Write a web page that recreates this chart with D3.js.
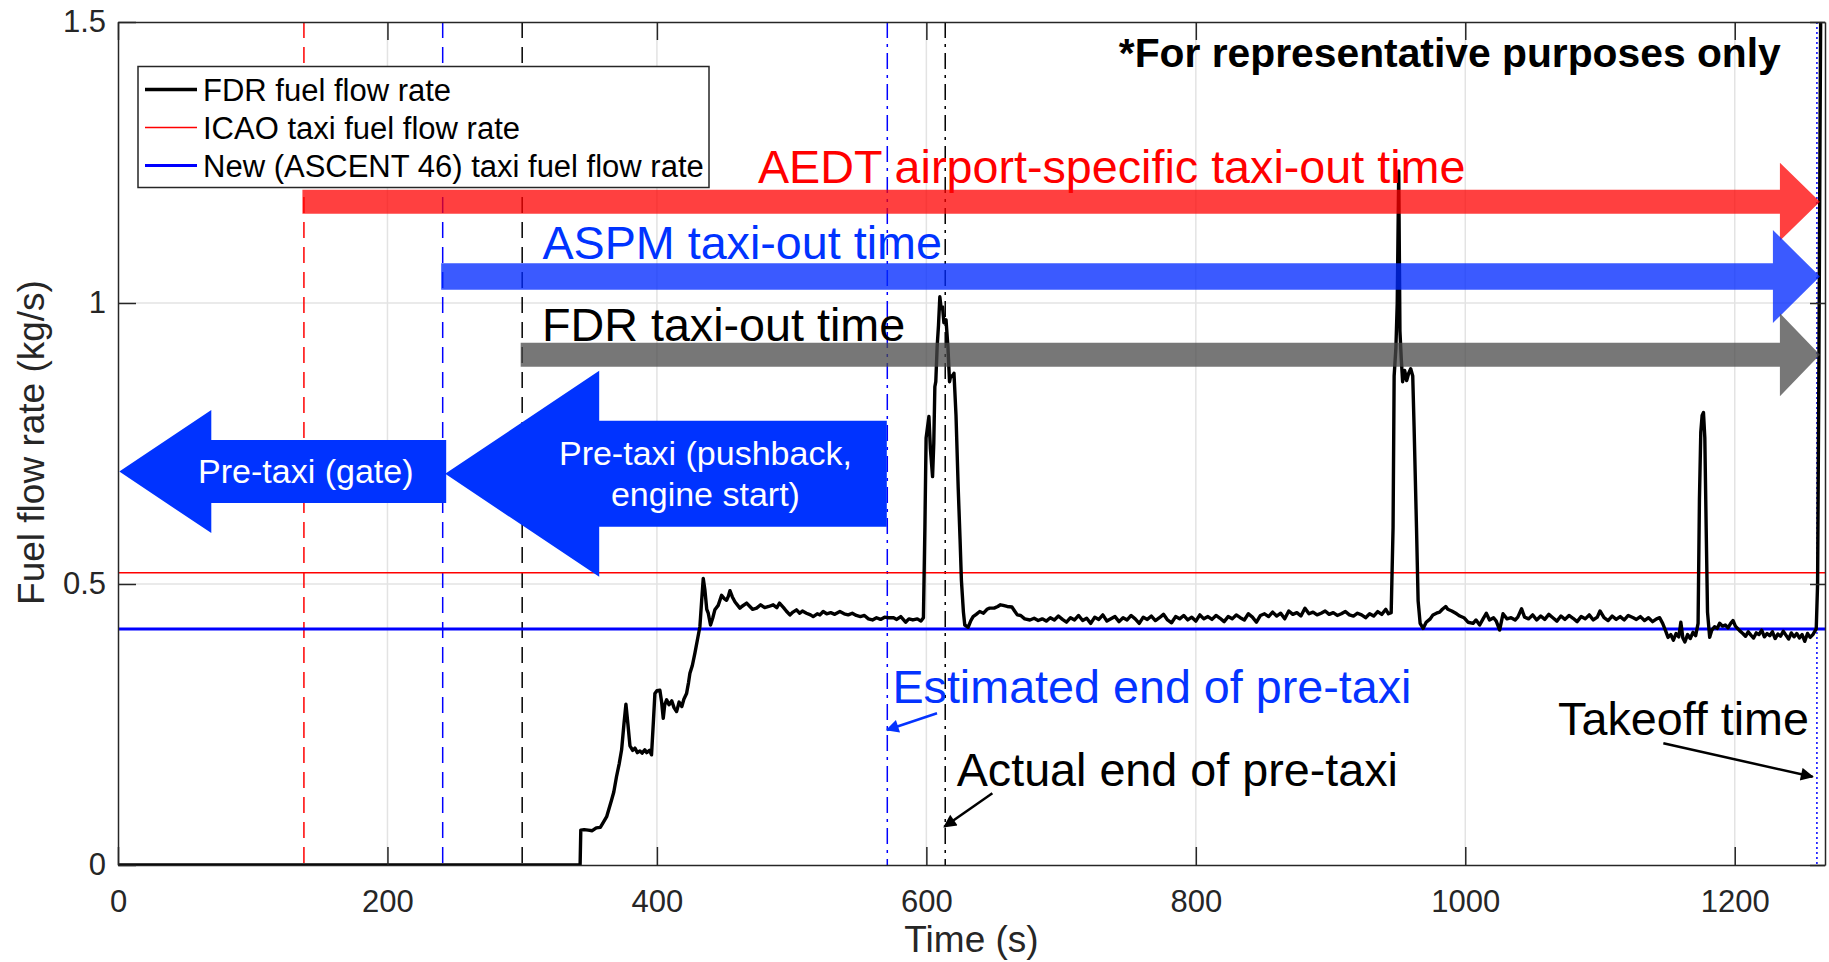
<!DOCTYPE html>
<html>
<head>
<meta charset="utf-8">
<script src="https://cdn.jsdelivr.net/npm/d3@7"></script>
<style>
  html, body { margin: 0; padding: 0; background: #fff; }
  svg { display: block; font-family: "Liberation Sans", Arial, sans-serif; }
</style>
</head>
<body>
<svg id="chart" width="1829" height="962"></svg>
<script>
// FDR fuel flow trace (time in s, rate in kg/s)
const fdrTime = [0, 343, 343.5, 346, 349, 352, 355, 358, 360, 362.7, 366.4, 368, 370, 372, 373.8, 375.5, 377, 378.5,
  380, 382, 383.7, 385.5, 387.4, 389, 391, 392.4, 394.5, 396, 397.5, 398.5, 400, 402.2, 403.5, 404.7, 405.8, 407.2,
  409, 411, 412.7, 414.6, 416.5, 418.5, 420, 422, 423.5, 424.5, 426.3, 428.2, 430, 431.9, 433.2, 434.4, 435.6, 437,
  438.1, 439.8, 441.5, 443, 445.5, 448, 450, 451.7, 453, 454.2, 456, 458, 460, 461.6, 463, 466.6, 469, 471, 474, 477,
  480, 483, 486.3, 489, 491, 494, 496, 498.7, 501, 503.6, 506, 508, 511, 514, 516, 519, 521, 523.4, 526, 529, 532,
  535.8, 539, 542, 545, 548, 551, 554, 557, 560, 563, 566, 569, 572, 575.7, 578, 581, 584.6, 587, 590, 593.3, 596,
  597.8, 598.9, 599.8, 601.9, 603, 604.6, 605.5, 606.3, 607, 608, 609, 610, 611, 612, 613, 614.6, 616, 617.2, 618,
  619, 620.5, 622, 623.6, 625, 626, 627.5, 628.5, 631, 633, 634.7, 637, 639.6, 642.4, 645, 647, 650.3, 653, 655, 657,
  660, 663.5, 665.5, 667.5, 670, 673, 676.9, 680, 683, 686, 689, 692, 695, 698, 701, 704, 707, 710, 713, 716, 719,
  722, 725, 728, 731, 734, 737, 740, 743, 746, 749, 752, 755, 758, 761, 764, 767, 770, 773, 776, 779, 782, 785, 788,
  791, 794, 797, 800, 803, 806, 809, 812, 815, 818, 821, 824, 827, 830, 833, 836, 839, 842, 845, 848, 851, 854, 857,
  860, 863, 866, 869, 872, 875, 878, 881, 884, 887, 890, 893, 896, 899, 902, 905, 908, 911, 914, 917, 920, 923, 926,
  929, 932, 935, 938, 941, 943, 945, 946.4, 947.2, 948.5, 949.5, 950.6, 951.5, 952.5, 953.5, 955, 956.5, 958, 959.5,
  961, 962, 963.8, 965, 966.5, 968.7, 971, 974, 976, 978.6, 981, 983, 985.5, 987, 990, 993.6, 996, 999, 1002, 1005.8,
  1008, 1010.7, 1013, 1015.6, 1018, 1021, 1023, 1025.5, 1028, 1031, 1034, 1037, 1039, 1041.8, 1044, 1047, 1050, 1053,
  1056, 1059, 1062, 1065, 1068, 1071, 1074, 1077, 1080, 1083, 1086, 1089, 1092, 1095, 1098, 1100, 1103, 1106, 1109,
  1112, 1115, 1118, 1121, 1124.7, 1127, 1130, 1133, 1136, 1139, 1142, 1144.3, 1146.5, 1148.5, 1150.5, 1152.5, 1154.5,
  1156.5, 1158.5, 1160, 1161.5, 1163, 1165, 1167, 1169, 1171, 1172.8, 1173.8, 1174.8, 1175.8, 1176.8, 1177.8, 1178.8,
  1179.8, 1181.4, 1183, 1185, 1187, 1188.8, 1191, 1193, 1195, 1197, 1198.7, 1200.5, 1203.6, 1206, 1208, 1210, 1212,
  1214, 1216, 1218, 1220, 1222, 1224, 1226, 1228, 1230, 1232, 1234, 1236, 1238, 1240, 1242, 1244, 1246, 1248, 1250,
  1252, 1254, 1256, 1258, 1260.5, 1261.5, 1262.5, 1263.3, 1264];
const fdrRate = [0, 0, 0.062, 0.063, 0.062, 0.061, 0.066, 0.067, 0.075, 0.086, 0.116, 0.13, 0.157, 0.18, 0.205, 0.25,
  0.286, 0.25, 0.212, 0.204, 0.208, 0.2, 0.203, 0.199, 0.205, 0.2, 0.204, 0.196, 0.26, 0.305, 0.31, 0.311, 0.29, 0.261,
  0.285, 0.294, 0.285, 0.292, 0.28, 0.273, 0.29, 0.282, 0.295, 0.305, 0.325, 0.341, 0.355, 0.377, 0.4, 0.424, 0.47,
  0.51, 0.49, 0.455, 0.448, 0.427, 0.44, 0.454, 0.462, 0.48, 0.474, 0.471, 0.478, 0.488, 0.477, 0.468, 0.462, 0.457,
  0.46, 0.466, 0.46, 0.455, 0.457, 0.463, 0.458, 0.46, 0.463, 0.458, 0.466, 0.458, 0.452, 0.445, 0.45, 0.454, 0.448,
  0.452, 0.448, 0.445, 0.442, 0.447, 0.445, 0.451, 0.447, 0.449, 0.446, 0.451, 0.447, 0.445, 0.448, 0.444, 0.442,
  0.444, 0.438, 0.436, 0.44, 0.437, 0.441, 0.44, 0.44, 0.437, 0.442, 0.432, 0.438, 0.436, 0.438, 0.434, 0.44, 0.6,
  0.76, 0.798, 0.74, 0.691, 0.75, 0.851, 0.86, 0.922, 0.96, 1.011, 0.99, 0.993, 0.965, 0.97, 0.922, 0.86, 0.87, 0.869,
  0.875, 0.8, 0.673, 0.58, 0.507, 0.45, 0.427, 0.423, 0.435, 0.442, 0.446, 0.451, 0.448, 0.455, 0.457, 0.457, 0.46,
  0.463, 0.462, 0.46, 0.459, 0.452, 0.445, 0.444, 0.438, 0.436, 0.439, 0.435, 0.438, 0.434, 0.44, 0.436, 0.443, 0.437,
  0.432, 0.44, 0.436, 0.444, 0.435, 0.439, 0.43, 0.441, 0.437, 0.445, 0.434, 0.438, 0.442, 0.433, 0.44, 0.436, 0.444,
  0.438, 0.43, 0.441, 0.437, 0.443, 0.435, 0.44, 0.446, 0.436, 0.431, 0.442, 0.438, 0.444, 0.436, 0.441, 0.434, 0.445,
  0.438, 0.442, 0.437, 0.444, 0.439, 0.433, 0.442, 0.438, 0.445, 0.44, 0.436, 0.447, 0.441, 0.432, 0.444, 0.447,
  0.442, 0.45, 0.443, 0.448, 0.438, 0.452, 0.446, 0.449, 0.443, 0.457, 0.447, 0.45, 0.445, 0.448, 0.452, 0.446, 0.449,
  0.444, 0.447, 0.451, 0.445, 0.443, 0.448, 0.445, 0.44, 0.447, 0.443, 0.451, 0.446, 0.455, 0.447, 0.449, 0.6, 0.87,
  0.92, 1.0, 1.235, 0.95, 0.9, 0.86, 0.88, 0.862, 0.875, 0.883, 0.87, 0.78, 0.6, 0.47, 0.43, 0.421, 0.432, 0.438,
  0.445, 0.448, 0.45, 0.455, 0.46, 0.455, 0.452, 0.447, 0.443, 0.44, 0.432, 0.43, 0.436, 0.427, 0.437, 0.448, 0.436,
  0.44, 0.434, 0.418, 0.447, 0.438, 0.44, 0.436, 0.441, 0.456, 0.441, 0.438, 0.445, 0.436, 0.443, 0.437, 0.446, 0.44,
  0.434, 0.443, 0.437, 0.444, 0.439, 0.433, 0.442, 0.438, 0.445, 0.436, 0.441, 0.452, 0.44, 0.435, 0.443, 0.437,
  0.442, 0.436, 0.444, 0.44, 0.437, 0.442, 0.435, 0.44, 0.433, 0.438, 0.44, 0.43, 0.418, 0.405, 0.41, 0.4, 0.412,
  0.406, 0.432, 0.404, 0.397, 0.41, 0.403, 0.414, 0.408, 0.43, 0.65, 0.77, 0.8, 0.805, 0.76, 0.6, 0.45, 0.405, 0.418,
  0.424, 0.421, 0.43, 0.425, 0.427, 0.422, 0.43, 0.435, 0.425, 0.417, 0.412, 0.407, 0.415, 0.409, 0.404, 0.413, 0.41,
  0.418, 0.406, 0.412, 0.408, 0.415, 0.403, 0.411, 0.407, 0.416, 0.409, 0.402, 0.413, 0.406, 0.412, 0.404, 0.41,
  0.398, 0.412, 0.405, 0.41, 0.42, 0.5, 0.9, 1.3, 1.6];

// reference taxi fuel flow rates (kg/s)
const icaoRate = 0.52;
const ascentRate = 0.42;

// event times (s)
const eventNames = ["aedtStart", "aspmStart", "fdrStart", "estEnd", "actualEnd", "takeoff"];
const eventTimes = [138, 241, 300, 571, 614, 1261];
const eventColors = ["#ff0000", "#0000ff", "#000000", "#0000ff", "#000000", "#0000ff"];
const eventDashes = ["16,9", "16,9", "16,9", "16,6,3,6", "16,6,3,6", "2,3"];

const xTicks = [0, 200, 400, 600, 800, 1000, 1200];
const yTicks = [0, 0.5, 1, 1.5];
const legendLabels = ["FDR fuel flow rate", "ICAO taxi fuel flow rate", "New (ASCENT 46) taxi fuel flow rate"];

const ev = Object.fromEntries(eventNames.map((n, i) => [n, eventTimes[i]]));

// layout
const svg = d3.select("#chart");
const plotL = 118, plotR = 1825, plotT = 22, plotB = 865;
const axisColor = "#262626";

const x = d3.scaleLinear().domain([0, 1267]).range([plotL, plotR]);
const y = d3.scaleLinear().domain([0, 1.5]).range([plotB, plotT]);

const defs = svg.append("defs");
defs.append("clipPath").attr("id", "plot-clip")
  .append("rect").attr("x", plotL).attr("y", plotT).attr("width", plotR - plotL).attr("height", plotB - plotT);

// grid
const grid = svg.append("g").attr("stroke", "#e3e3e3").attr("stroke-width", 1.5);
grid.selectAll(".gx").data(xTicks.slice(1)).join("line").attr("class", "gx")
  .attr("x1", d => x(d)).attr("x2", d => x(d)).attr("y1", plotT).attr("y2", plotB);
grid.selectAll(".gy").data(yTicks.slice(1, -1)).join("line").attr("class", "gy")
  .attr("x1", plotL).attr("x2", plotR).attr("y1", d => y(d)).attr("y2", d => y(d));

const plot = svg.append("g").attr("clip-path", "url(#plot-clip)");

// vertical event lines
plot.selectAll(".event").data(eventTimes).join("line").attr("class", "event")
  .attr("x1", d => x(d)).attr("x2", d => x(d)).attr("y1", plotT).attr("y2", plotB)
  .attr("stroke", (d, i) => eventColors[i])
  .attr("stroke-width", 1.5)
  .attr("stroke-dasharray", (d, i) => eventDashes[i]);

// reference rates
plot.append("line").attr("x1", plotL).attr("x2", plotR)
  .attr("y1", y(icaoRate)).attr("y2", y(icaoRate))
  .attr("stroke", "#ff0000").attr("stroke-width", 1.5);
plot.append("line").attr("x1", plotL).attr("x2", plotR)
  .attr("y1", y(ascentRate)).attr("y2", y(ascentRate))
  .attr("stroke", "#0000ff").attr("stroke-width", 3);

// FDR trace
const fdrLine = d3.line().x(d => x(d[0])).y(d => y(d[1]));
plot.append("path")
  .datum(fdrTime.map((t, i) => [t, fdrRate[i]]))
  .attr("d", fdrLine)
  .attr("fill", "none").attr("stroke", "#000").attr("stroke-width", 3.4)
  .attr("stroke-linejoin", "round");

// axes (box with inward ticks)
const tickFont = 31;
const gx = svg.append("g").attr("transform", `translate(0,${plotB})`)
  .call(d3.axisBottom(x).tickValues(xTicks).tickFormat(d3.format("d"))
    .tickSizeInner(-18).tickSizeOuter(0).tickPadding(25));
const gy = svg.append("g").attr("transform", `translate(${plotL},0)`)
  .call(d3.axisLeft(y).tickValues(yTicks).tickFormat(d3.format("~g")).tickSizeInner(-18).tickSizeOuter(0).tickPadding(12));
const gt = svg.append("g").attr("transform", `translate(0,${plotT})`)
  .call(d3.axisTop(x).tickValues(xTicks).tickFormat("").tickSizeInner(-18).tickSizeOuter(0));
const gr = svg.append("g").attr("transform", `translate(${plotR},0)`)
  .call(d3.axisRight(y).tickValues(yTicks).tickFormat("").tickSizeInner(-15).tickSizeOuter(0));
[gx, gy, gt, gr].forEach(g => {
  g.select(".domain").attr("stroke", axisColor).attr("stroke-width", 1.5);
  g.selectAll(".tick line").attr("stroke", axisColor).attr("stroke-width", 1.5);
  g.selectAll("text").attr("fill", axisColor).attr("font-size", tickFont)
    .attr("font-family", "Liberation Sans, Arial, sans-serif");
});

svg.append("text").attr("x", (plotL + plotR) / 2).attr("y", 952)
  .attr("text-anchor", "middle").attr("font-size", 37).attr("fill", axisColor).text("Time (s)");
svg.append("text").attr("transform", `translate(44,${(plotT + plotB) / 2 - 1}) rotate(-90)`)
  .attr("text-anchor", "middle").attr("font-size", 37).attr("fill", axisColor).text("Fuel flow rate (kg/s)");

// legend
const legend = svg.append("g");
legend.append("rect").attr("x", 138).attr("y", 66.5).attr("width", 571).attr("height", 121)
  .attr("fill", "#fff").attr("stroke", axisColor).attr("stroke-width", 1.5);
const legendColors = ["#000", "#ff0000", "#0000ff"];
const legendWidths = [3.4, 1.5, 3];
legendLabels.forEach((lab, i) => {
  const ly = 89.5 + i * 38;
  legend.append("line").attr("x1", 145).attr("x2", 197).attr("y1", ly).attr("y2", ly)
    .attr("stroke", legendColors[i]).attr("stroke-width", legendWidths[i]);
  legend.append("text").attr("x", 203).attr("y", ly + 11).attr("font-size", 31).attr("fill", "#000").text(lab);
});

// block arrows
const arrowLine = d3.line();
function blockArrow(xTail, xTip, yc, shaft, head, headLen) {
  const dir = xTip > xTail ? 1 : -1;
  const xb = xTip - dir * headLen;
  return arrowLine([[xTail, yc - shaft / 2], [xb, yc - shaft / 2], [xb, yc - head / 2], [xTip, yc],
    [xb, yc + head / 2], [xb, yc + shaft / 2], [xTail, yc + shaft / 2]]) + "Z";
}
const tipX = x(ev.takeoff) + 3;
const spans = [
  { from: ev.aedtStart, level: 1.18, shaft: 24, head: 78, headLen: 40, fill: "#ff0000", op: 0.75 },
  { from: ev.aspmStart, level: 1.047, shaft: 26.5, head: 93, headLen: 47, fill: "#0028ff", op: 0.77 },
  { from: ev.fdrStart, level: 0.908, shaft: 24, head: 83, headLen: 40, fill: "#4a4a4a", op: 0.75 }
];
svg.append("g").selectAll("path").data(spans).join("path")
  .attr("d", d => blockArrow(x(d.from) - 1.5, tipX, y(d.level), d.shaft, d.head, d.headLen))
  .attr("fill", d => d.fill).attr("fill-opacity", d => d.op);

const preTaxi = svg.append("g").attr("fill", "#0033ff");
preTaxi.append("path").attr("d", blockArrow(x(ev.aspmStart) + 3.5, x(0) + 1.3, y(0.7), 63, 123, 92));
preTaxi.append("path").attr("d", blockArrow(x(ev.estEnd) - 0.5, x(ev.aspmStart) + 2.5, y(0.696), 106, 206, 154));

const pre = svg.append("g").attr("fill", "#fff").attr("font-size", 34).attr("text-anchor", "middle");
pre.append("text").attr("x", x(139.4)).attr("y", y(0.679)).text("Pre-taxi (gate)");
pre.append("text").attr("x", x(436)).attr("y", y(0.711)).text("Pre-taxi (pushback,");
pre.append("text").attr("x", x(436)).attr("y", y(0.638)).text("engine start)");

// annotation text
const notes = [
  { t: 475, v: 1.2135, color: "#ff0000", text: "AEDT airport-specific taxi-out time" },
  { t: 315, v: 1.078, color: "#0033ff", text: "ASPM taxi-out time" },
  { t: 314.7, v: 0.933, color: "#000", text: "FDR taxi-out time" },
  { t: 574.8, v: 0.2877, color: "#0433ff", text: "Estimated end of pre-taxi" },
  { t: 622.5, v: 0.1406, color: "#000", text: "Actual end of pre-taxi" },
  { t: 1068.9, v: 0.2313, color: "#000", text: "Takeoff time" }
];
svg.append("g").selectAll("text").data(notes).join("text")
  .attr("x", d => x(d.t)).attr("y", d => y(d.v)).attr("font-size", 46.7)
  .attr("fill", d => d.color).text(d => d.text);

svg.append("text").attr("x", x(1234.2)).attr("y", y(1.42)).attr("text-anchor", "end")
  .attr("font-size", 40.8).attr("font-weight", "bold").attr("fill", "#000")
  .text("*For representative purposes only");

// pointer arrows
[["head-blue", "#0433ff"], ["head-black", "#000"]].forEach(([id, c]) => {
  defs.append("marker").attr("id", id).attr("viewBox", "0 0 10 10").attr("refX", 9).attr("refY", 5)
    .attr("markerWidth", 17).attr("markerHeight", 13).attr("markerUnits", "userSpaceOnUse")
    .attr("orient", "auto").append("path").attr("d", "M0,0L10,5L0,10Z").attr("fill", c);
});
const pointers = [
  { from: [607.9, 0.27], to: [570.7, 0.2403], color: "#0433ff", marker: "head-blue" },
  { from: [649, 0.1276], to: [613.3, 0.0681], color: "#000", marker: "head-black" },
  { from: [1147, 0.2165], to: [1257.8, 0.157], color: "#000", marker: "head-black" }
];
svg.append("g").selectAll("line").data(pointers).join("line")
  .attr("x1", d => x(d.from[0])).attr("y1", d => y(d.from[1]))
  .attr("x2", d => x(d.to[0])).attr("y2", d => y(d.to[1]))
  .attr("stroke", d => d.color).attr("stroke-width", 2.5)
  .attr("marker-end", d => `url(#${d.marker})`);
</script>
</body>
</html>
